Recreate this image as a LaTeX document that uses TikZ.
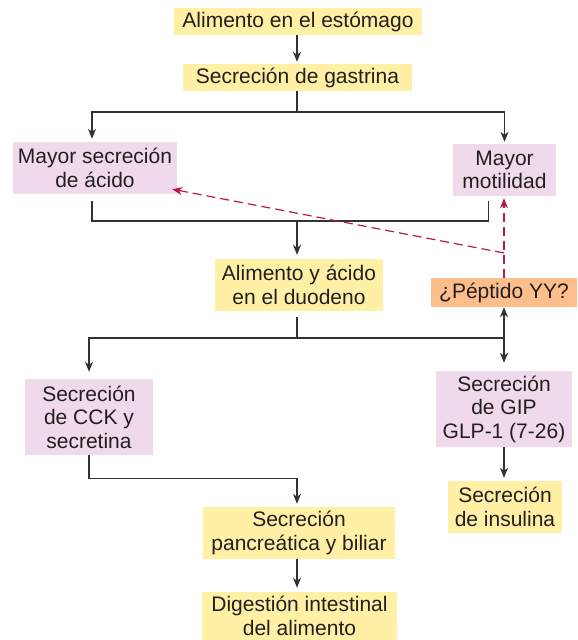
\documentclass[tikz,border=0pt]{standalone}
\usepackage{fontspec}
\setmainfont{Liberation Sans}
\usepackage{tikz}
\usetikzlibrary{arrows.meta, calc}
\definecolor{mytext}{RGB}{35,31,32}
\definecolor{mydark}{RGB}{50,50,50}
\definecolor{mycrimson}{RGB}{180,26,80}
\definecolor{hdryellow}{RGB}{255,240,165}
\definecolor{hdrpink}{RGB}{239,217,234}
\definecolor{hdrorange}{RGB}{253,190,139}
\tikzset{
  box/.style={rectangle, inner sep=0pt, align=center, text=mytext,
    font=\fontsize{21}{23.5}\selectfont},
  yellowblock/.style={box, fill=hdryellow},
  pinkblock/.style={box, fill=hdrpink},
  orangeblock/.style={box, fill=hdrorange},
  arrow/.style={-{Stealth[length=10pt, width=8pt, inset=3pt]}, line width=1.2pt, color=mydark},
  dblarrow/.style={{Stealth[length=10pt, width=8pt, inset=3pt]}-{Stealth[length=10pt, width=8pt, inset=3pt]}, line width=1.2pt, color=mydark},
  line/.style={line width=1.2pt, color=mydark},
  dasharrow/.style={-{Stealth[length=10pt, width=8pt, inset=3pt]}, line width=1.2pt,
    color=mycrimson, dash pattern=on 9pt off 5pt}
}
\begin{document}
\begin{tikzpicture}[x=1pt, y=-1pt]
  \useasboundingbox (0,0) rectangle (578,640);

  \node[yellowblock, minimum width=248, minimum height=27] (estomago) at (298,21.5) {Alimento en el estómago};
  \node[yellowblock, minimum width=229, minimum height=27] (gastrina) at (297.5,77.5) {Secreción de gastrina};
  \node[pinkblock, minimum width=164, minimum height=52] (acido) at (95,168) {Mayor secreción\\de ácido};
  \node[pinkblock, minimum width=103, minimum height=52] (motilidad) at (504.5,170) {Mayor\\motilidad};
  \node[yellowblock, minimum width=168, minimum height=52] (duodeno) at (299,285) {Alimento y ácido\\en el duodeno};
  \node[orangeblock, minimum width=146, minimum height=29] (peptido) at (504,292.5) {¿Péptido YY?};
  \node[pinkblock, minimum width=128, minimum height=76] (cck) at (89,417) {Secreción\\de CCK y\\secretina};
  \node[pinkblock, minimum width=136, minimum height=76] (gip) at (504,409) {Secreción\\de GIP\\GLP-1 (7-26)};
  \node[yellowblock, minimum width=114, minimum height=52] (insulina) at (505,507) {Secreción\\de insulina};
  \node[yellowblock, minimum width=192, minimum height=52] (pancreatica) at (299,533) {Secreción\\pancreática y biliar};
  \node[yellowblock, minimum width=195, minimum height=48] (digestion) at (299.5,616) {Digestión intestinal\\del alimento};

  % junctions
  \coordinate (j1) at (297,112);
  \coordinate (j2) at (297,221);
  \coordinate (j3) at (297,338);
  \coordinate (yy) at (504,253);

  \draw[arrow, shorten >=2pt] (estomago.south -| j1) -- (gastrina.north -| j1);
  \draw[line] (gastrina.south -| j1) -- (j1);
  \draw[arrow, shorten >=3pt] (j1) -| ([xshift=-3pt]acido.north);
  \draw[arrow, shorten >=2pt] (j1) -| (motilidad.north);

  \draw[line] ([xshift=-3pt, yshift=-7pt]acido.south) |- (j2) -| ([xshift=-16pt, yshift=-5pt]motilidad.south);
  \draw[arrow, shorten >=4pt] (j2) -- (duodeno.north -| j2);

  \draw[line] ([yshift=-6pt]duodeno.south -| j3) -- (j3);
  \draw[arrow, shorten >=7pt] (j3) -| (cck.north);
  \draw[line] (j3) -- (j3 -| gip.north);
  \draw[dblarrow, shorten >=8pt] (peptido.south) -- (gip.north);

  \draw[arrow, shorten >=3pt] (cck.south) -- ++(0,23) -| (pancreatica.north -| j3);
  \draw[arrow, shorten >=4pt] (pancreatica.south -| j3) -- (digestion.north -| j3);
  \draw[arrow, shorten >=3pt] (gip.south) -- (gip.south |- insulina.north);

  % peptide YY feedback
  \draw[dasharrow, shorten >=2pt] (peptido.north) -- (peptido.north |- motilidad.south);
  \draw[dasharrow] (yy) -- ($(acido.south east)+(-5,-5)$);
\end{tikzpicture}
\end{document}
